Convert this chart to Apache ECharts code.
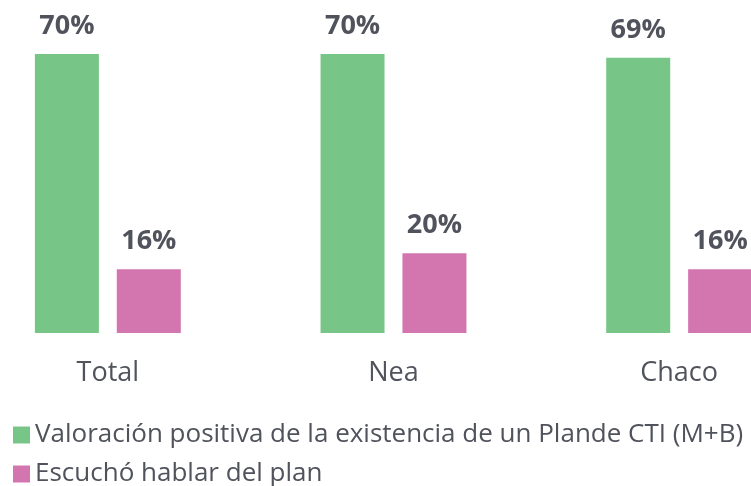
<!DOCTYPE html>
<html>
<head>
<meta charset="utf-8">
<script src="https://cdn.jsdelivr.net/npm/echarts@6/dist/echarts.min.js"></script>
<style>
  html, body { margin: 0; padding: 0; background: #fff; }
  #chart { width: 751px; height: 486px; }
</style>
</head>
<body>
<div id="chart"></div>
<script>
var categories = ['Total', 'Nea', 'Chaco'];
var valoracion = [70, 70, 69];
var escucho = [16, 20, 16];
var seriesNames = [
    'Valoración positiva de la existencia de un Plande CTI (M+B)',
    'Escuchó hablar del plan'
];

var green = '#78c687';
var pink = '#d376b0';
var textColor = '#50535c';

var mychart = echarts.init(document.getElementById('chart'));

mychart.setOption({
    animation: false,
    textStyle: { fontFamily: 'Open Sans' },
    grid: {
        left: -35,
        right: -71,
        top: 14,
        bottom: 153,
        outerBoundsMode: 'none'
    },
    legend: {
        orient: 'vertical',
        left: 13,
        top: 422,
        height: 80,
        padding: 0,
        itemWidth: 17,
        itemHeight: 17,
        itemGap: 13,
        icon: 'rect',
        textStyle: {
            fontSize: 26,
            lineHeight: 26,
            color: textColor,
            fontFamily: 'Open Sans'
        },
        data: seriesNames
    },
    xAxis: {
        type: 'category',
        data: categories,
        axisLine: { show: false },
        axisTick: { show: false },
        axisLabel: {
            fontSize: 27,
            color: textColor,
            margin: 27
        }
    },
    yAxis: {
        type: 'value',
        min: 0,
        max: 80,
        show: false,
        splitLine: { show: false }
    },
    series: [
        {
            name: seriesNames[0],
            type: 'bar',
            data: valoracion,
            barWidth: 64,
            barGap: '28%',
            itemStyle: { color: green },
            label: {
                show: true,
                position: 'top',
                distance: 14,
                formatter: '{c}%',
                fontSize: 27,
                fontWeight: 'bold',
                color: textColor
            }
        },
        {
            name: seriesNames[1],
            type: 'bar',
            data: escucho,
            barWidth: 64,
            itemStyle: { color: pink },
            label: {
                show: true,
                position: 'top',
                distance: 14,
                formatter: '{c}%',
                fontSize: 27,
                fontWeight: 'bold',
                color: textColor
            }
        }
    ]
});
</script>
</body>
</html>
